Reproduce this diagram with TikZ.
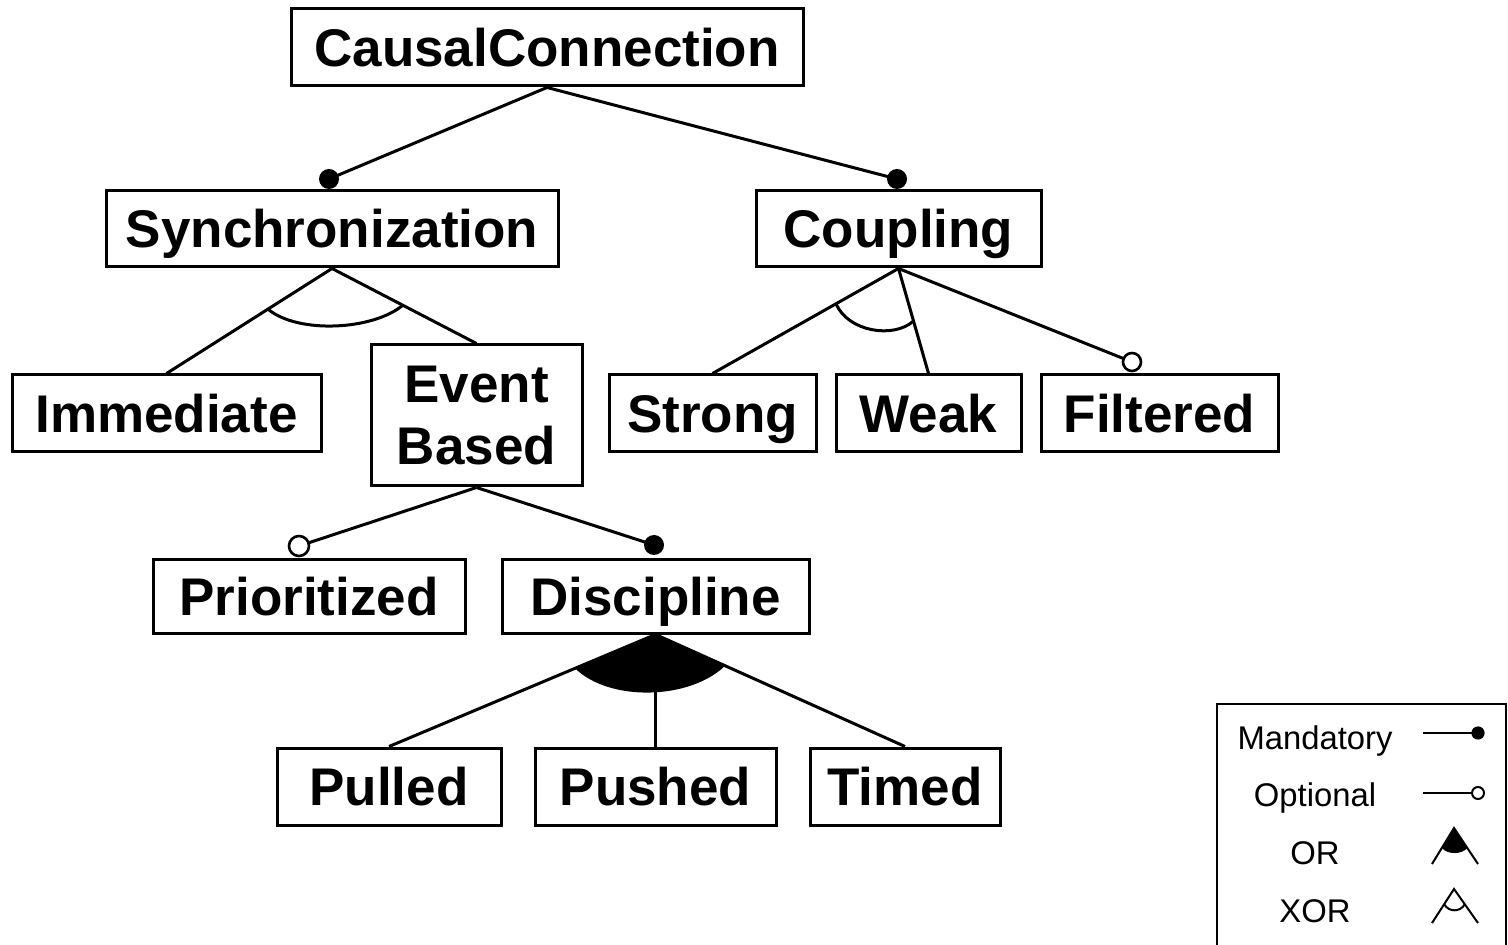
\documentclass[tikz,border=0pt]{standalone}
\usepackage{fontspec}
\setmainfont{Liberation Sans}
\usetikzlibrary{calc}
\begin{document}
\begin{tikzpicture}[x=0.5pt,y=-0.5pt,
  featbase/.style={draw, line width=1.5pt, inner sep=0pt,
    font=\fontsize{26.5}{31}\selectfont\bfseries},
  feature/.style={featbase, text height=19pt, text depth=0pt},
  link/.style={line width=1.5pt},
  mandot/.style={fill=black},
  optdot/.style={fill=white, draw=black, line width=1.3pt},
  legtext/.style={font=\fontsize{16.4}{20}\selectfont, inner sep=0pt,
    text height=11.7pt, text depth=0pt},
  legline/.style={line width=1pt}
]
\useasboundingbox (0,0) rectangle (1508,945);

% feature boxes
\node[feature, minimum width=256pt, minimum height=38.5pt] (cc) at (547,47.5) {CausalConnection};
\node[feature, minimum width=226pt, minimum height=38pt] (sync) at (332,229) {Synchronization};
\node[feature, minimum width=142.5pt, minimum height=38pt] (cpl) at (898.5,229) {Coupling};
\node[feature, minimum width=154.5pt, minimum height=38.5pt] (imm) at (166.5,413.5) {Immediate};
\node[featbase, align=center, minimum width=105.5pt, minimum height=70.5pt] (ev) at (476.5,415.5) {Event\\Based};
\node[feature, minimum width=103.5pt, minimum height=38.5pt] (strong) at (712.5,413.5) {Strong};
\node[feature, minimum width=92.5pt, minimum height=38.5pt] (weak) at (928.5,413.5) {Weak};
\node[feature, minimum width=118.5pt, minimum height=38.5pt] (filt) at (1159.5,413.5) {Filtered};
\node[feature, minimum width=156pt, minimum height=36.5pt] (prio) at (309,596.5) {Prioritized};
\node[feature, minimum width=153.5pt, minimum height=36.5pt] (disc) at (655.5,596.5) {Discipline};
\node[feature, minimum width=112pt, minimum height=38.5pt] (pull) at (389,786.5) {Pulled};
\node[feature, minimum width=120.5pt, minimum height=38.5pt] (push) at (655.5,786.5) {Pushed};
\node[feature, minimum width=95pt, minimum height=38.5pt] (timed) at (905,786.5) {Timed};

% end points of mandatory / optional edges
\coordinate (dsync) at (329,179);
\coordinate (dcpl) at (897,179);
\coordinate (ofilt) at (1132,362);
\coordinate (oprio) at (299,546);
\coordinate (ddisc) at (654,545);

% CausalConnection: two mandatory children
\draw[link] (cc.south) -- (dsync);
\draw[link] (cc.south) -- (dcpl);
\fill[mandot] (dsync) circle[radius=5pt];
\fill[mandot] (dcpl) circle[radius=5pt];

% Synchronization: XOR group
\draw[link] (sync.south) -- (imm.north);
\draw[link] (sync.south) -- (ev.north);
\coordinate (sxl) at ($(sync.south)!0.387!(imm.north)$);
\coordinate (sxr) at ($(sync.south)!0.49!(ev.north)$);
\draw[link] (sxl) .. controls ($(sxl)+(30,25)$) and ($(sxr)+(-30,25)$) .. (sxr);

% Coupling: XOR group plus optional Filtered
\draw[link] (cpl.south) -- (strong.north);
\draw[link] (cpl.south) -- (weak.north);
\draw[link] (cpl.south) -- (ofilt);
\draw[optdot] (ofilt) circle[radius=4.5pt];
\coordinate (cxl) at ($(cpl.south)!0.336!(strong.north)$);
\coordinate (cxr) at ($(cpl.south)!0.5!(weak.north)$);
\draw[link] (cxl) .. controls ($(cxl)+(12,28)$) and ($(cxr)+(-20,18)$) .. (cxr);

% Event Based: optional Prioritized, mandatory Discipline
\draw[link] (ev.south) -- (oprio);
\draw[link] (ev.south) -- (ddisc);
\draw[optdot] (oprio) circle[radius=5pt];
\fill[mandot] (ddisc) circle[radius=5pt];

% Discipline: OR group
\draw[link] (disc.south) -- (pull.north);
\draw[link] (disc.south) -- (push.north);
\draw[link] (disc.south) -- (timed.north);
\coordinate (dol) at ($(disc.south)!0.302!(pull.north)$);
\coordinate (dor) at ($(disc.south)!0.279!(timed.north)$);
\fill (disc.south) -- (dol) .. controls ($(dol)+(35,34)$) and ($(dor)+(-35,34)$) .. (dor) -- cycle;

% legend
\draw[line width=1.2pt] (1217,945) -- (1217,704) -- (1506,704) -- (1506,945);
\node[legtext] (lmand) at (1315,737.5) {Mandatory};
\node[legtext] (lopt) at (1315,795) {Optional};
\node[legtext] (lor) at (1315,853) {OR};
\node[legtext] (lxor) at (1315,911) {XOR};

\coordinate (lm1) at (1423,733);
\coordinate (lm2) at (1478,733);
\draw[legline] (lm1) -- (lm2);
\fill (lm2) circle[radius=3.3pt];

\coordinate (lo1) at (1423,793);
\coordinate (lo2) at (1478,793);
\draw[legline] (lo1) -- ($(lo2)+(-6,0)$);
\draw[legline] (lo2) circle[radius=3pt];

\coordinate (ora) at (1454,828);
\coordinate (orl) at (1432,864);
\coordinate (orr) at (1478,864);
\draw[legline] (orl) -- (ora) -- (orr);
\coordinate (orfl) at ($(ora)!0.55!(orl)$);
\coordinate (orfr) at ($(ora)!0.55!(orr)$);
\fill (ora) -- (orfl) .. controls ($(orfl)+(5,7)$) and ($(orfr)+(-5,7)$) .. (orfr) -- cycle;

\coordinate (xa) at (1454,889);
\coordinate (xl) at (1432,923);
\coordinate (xr) at (1478,923);
\draw[legline] (xl) -- (xa) -- (xr);
\coordinate (xfl) at ($(xa)!0.45!(xl)$);
\coordinate (xfr) at ($(xa)!0.45!(xr)$);
\draw[legline] (xfl) .. controls ($(xfl)+(5,8)$) and ($(xfr)+(-5,8)$) .. (xfr);
\end{tikzpicture}
\end{document}
